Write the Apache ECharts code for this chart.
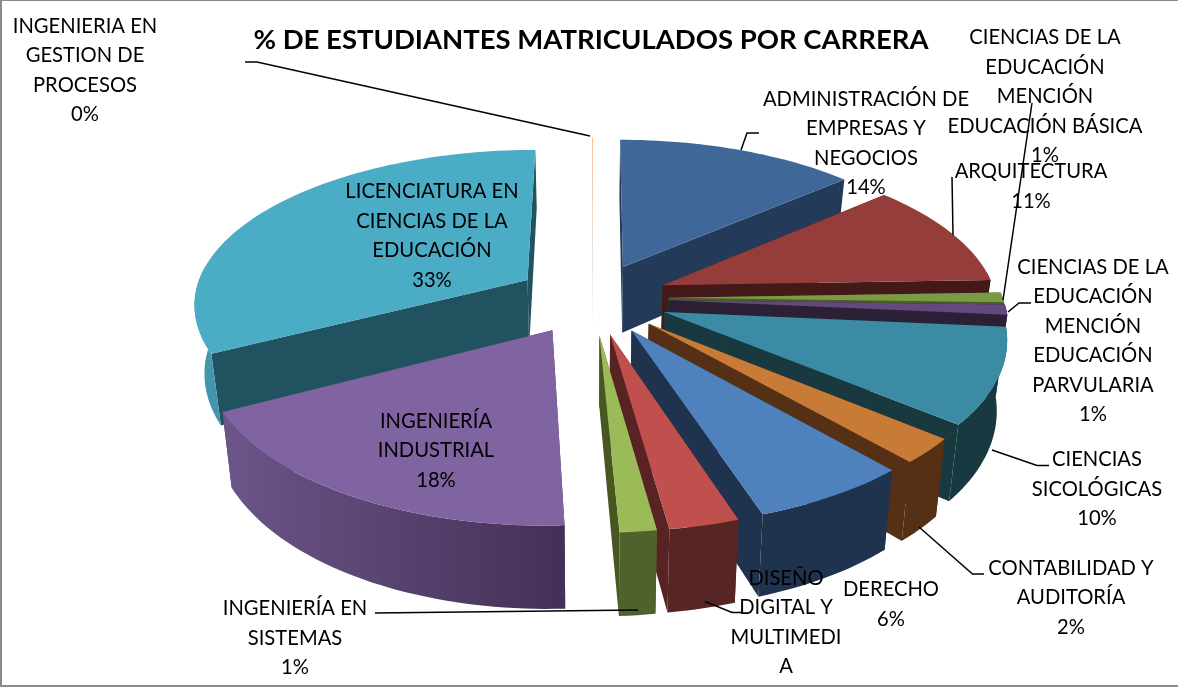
<!DOCTYPE html>
<html><head><meta charset="utf-8">
<style>html,body{margin:0;padding:0;background:#fff}#c{width:1178px;height:688px}</style>
<script src="https://cdn.jsdelivr.net/npm/echarts@6/dist/echarts.min.js"></script>
</head><body><div id="c"></div>
<script>
const chartTitle = '% DE ESTUDIANTES MATRICULADOS POR CARRERA';
const categories = [
  'INGENIERIA EN\nGESTION DE\nPROCESOS',
  'ADMINISTRACIÓN DE\nEMPRESAS Y\nNEGOCIOS',
  'ARQUITECTURA',
  'CIENCIAS DE LA\nEDUCACIÓN\nMENCIÓN\nEDUCACIÓN BÁSICA',
  'CIENCIAS DE LA\nEDUCACIÓN\nMENCIÓN\nEDUCACIÓN\nPARVULARIA',
  'CIENCIAS\nSICOLÓGICAS',
  'CONTABILIDAD Y\nAUDITORÍA',
  'DERECHO',
  'DISEÑO\nDIGITAL Y\nMULTIMEDI\nA',
  'INGENIERÍA EN\nSISTEMAS',
  'INGENIERÍA\nINDUSTRIAL',
  'LICENCIATURA EN\nCIENCIAS DE LA\nEDUCACIÓN'
];
const values = [0.05, 13.5, 10.9, 1, 1, 9.5, 2.49, 6.49, 2.85, 1.49, 18.2, 32.56];
const topColors  = ['#f6b98a','#3f6797','#953d3b','#7c9a45','#64497f','#3c8ba4','#c87b36','#4f81bd','#c0504d','#9bbb59','#8064a2','#4bacc6'];
const faceColors = ['#c9c0b8','#233a58','#431a18','#4a5c27','#2c2036','#17393f','#553015','#1f334f','#582322','#47571f','#4a3560','#215260'];
const wallLeft   = ['#c9c0b8','#233a58','#431a18','#4a5c27','#2c2036','#17393f','#553015','#1f334f','#572524','#50622c','#6c5589','#4595ad'];
const wallRight  = ['#c9c0b8','#233a58','#431a18','#4a5c27','#2c2036','#17393f','#553015','#1f334f','#572524','#50622c','#443056','#4595ad'];

/* layout of the labels and their leader lines (page pixels) */
const labelAt = [[85,70.5],[866,143.5],[1031,186.5],[1045,96.5],[1093,341],[1097,489],[1071,597.5],[891,604.5],[786,637],[295,638],[436,450.5],[432,236]];
const leaders = [
  [[245,62],[257,62],[590,136]], [[759,133],[747,133],[741,150]], [[952,177],[953,235]],
  [[1032,103],[1003,300]], [[1031,303],[1019,303],[1008,312]], [[1049,465.5],[1037,465.5],[992,450]],
  [[984,574],[972.5,574],[919,527]], null, [[743,612.5],[732,612.5],[705,601.5]],
  [[375,613],[638,610]], null, null
];

/* perspective model of the pie */
const CX = 592, CY = 298, RX = 334, RY_BACK = 153, RY_FRONT = 158, PERSP = 0.14, EXPLODE = 0.23, DEPTH = 68, SHRINK = 0.975;
const total = values.reduce((a, b) => a + b, 0);
function project(u, v, lower) {
  const s = 1 / (1 - PERSP * v);
  const x = RX * u * s, y = (v > 0 ? RY_FRONT : RY_BACK) * v * s;
  if (!lower) return [CX + x, CY + y];
  return [CX + x * SHRINK, CY + y + DEPTH * Math.pow(s, 1.1)];
}
let acc = 0;
const slices = values.map((val, i) => {
  const a0 = acc / total * 360; acc += val; const a1 = acc / total * 360;
  return { i, a0, a1, mid: (a0 + a1) / 2 };
});
const drawOrder = slices.slice().sort((a, b) => -Math.cos(a.mid * Math.PI / 180) + Math.cos(b.mid * Math.PI / 180));

function arcPoints(sl, from, to, lower) {
  const m = sl.mid * Math.PI / 180, ou = EXPLODE * Math.sin(m), ov = -EXPLODE * Math.cos(m);
  const n = Math.max(1, Math.ceil((to - from) / 1.5)), pts = [];
  for (let k = 0; k <= n; k++) {
    const t = (from + (to - from) * k / n) * Math.PI / 180;
    pts.push(project(ou + Math.sin(t), ov - Math.cos(t), lower));
  }
  return pts;
}
function apex(sl, lower) {
  const m = sl.mid * Math.PI / 180;
  return project(EXPLODE * Math.sin(m), -EXPLODE * Math.cos(m), lower);
}
function poly(points, fill) {
  return { type: 'polygon', shape: { points }, style: { fill, stroke: null } };
}
function renderSlice(params) {
  const sl = drawOrder[params.dataIndex], i = sl.i, kids = [];
  const faceOf = a => {
    const p = arcPoints(sl, a, a, false)[0], q = arcPoints(sl, a, a, true)[0];
    return poly([apex(sl, false), p, q, apex(sl, true)], faceColors[i]);
  };
  kids.push(faceOf(sl.a0), faceOf(sl.a1));
  const w0 = Math.max(sl.a0, 85), w1 = Math.min(sl.a1, 275);
  if (w1 > w0) {
    const up = arcPoints(sl, w0, w1, false), lo = arcPoints(sl, w0, w1, true).reverse();
    kids.push(poly(up.concat(lo), new echarts.graphic.LinearGradient(1, 0, 0, 0,
      [{ offset: 0, color: wallRight[i] }, { offset: 1, color: wallLeft[i] }])));
  }
  kids.push(poly([apex(sl, false)].concat(arcPoints(sl, sl.a0, sl.a1, false)), topColors[i]));
  return { type: 'group', children: kids };
}

const FONT = 'Lato, "Open Sans", sans-serif';
const graphics = [];
leaders.forEach(l => { if (l) graphics.push({ type: 'polyline', z: 5, shape: { points: l }, style: { stroke: '#000', lineWidth: 1.5, fill: null } }); });
categories.forEach((name, i) => {
  graphics.push({ type: 'text', z: 10, x: labelAt[i][0], y: labelAt[i][1], style: {
    text: name + '\n' + Math.round(values[i]) + '%', fill: '#000', font: '20.2px ' + FONT,
    lineHeight: 29.5, align: 'center', verticalAlign: 'middle' } });
});
graphics.push({ type: 'rect', z: 20, shape: { x: 1, y: 0, width: 1190, height: 686 }, style: { fill: null, stroke: '#8a8a8a', lineWidth: 2 } });

const chart = echarts.init(document.getElementById('c'));
chart.setOption({
  animation: false,
  backgroundColor: '#fff',
  title: { text: chartTitle, left: 586, top: 21, textAlign: 'center',
    textStyle: { fontFamily: FONT, fontWeight: 'bold', fontSize: 27.5, color: '#000' } },
  series: [{ type: 'custom', coordinateSystem: 'none', silent: true, renderItem: renderSlice,
    data: drawOrder.map(s => values[s.i]) }],
  graphic: graphics
});
</script></body></html>
